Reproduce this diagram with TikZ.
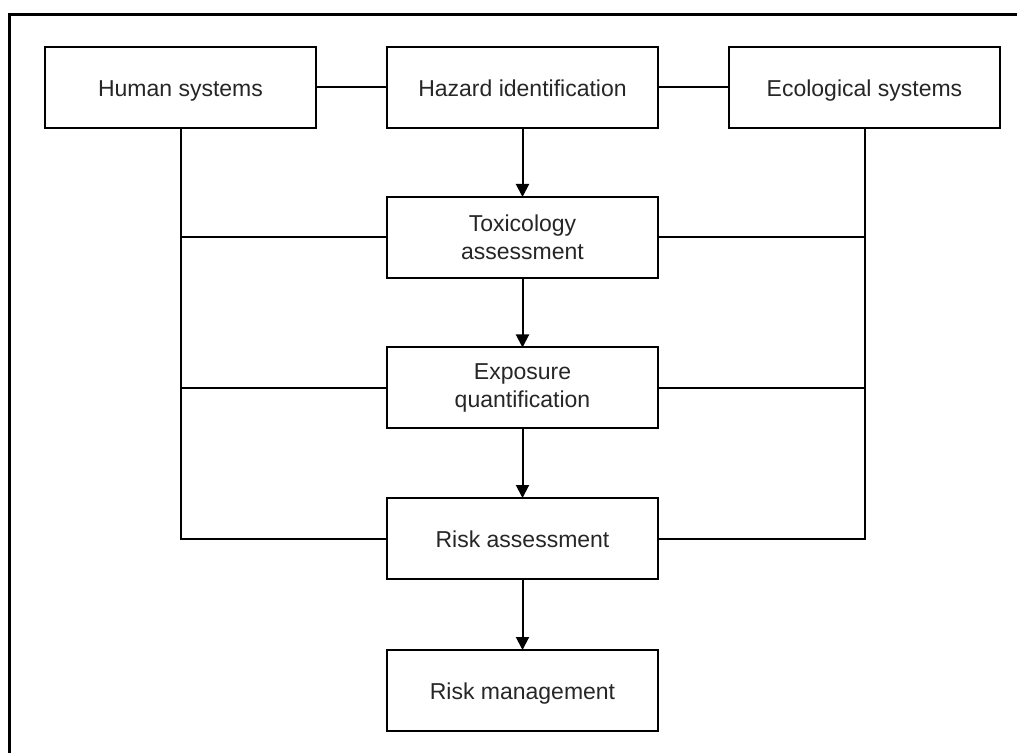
\documentclass[tikz,border=0pt]{standalone}
\usepackage{fontspec}
\setmainfont{Liberation Sans}
\usetikzlibrary{arrows.meta}
\begin{document}
\begin{tikzpicture}[x=0.5pt,y=-0.5pt,line width=1pt,
    >={Triangle[length=6.5pt,width=6.5pt]},
    box/.style={draw,minimum width=135.5pt,minimum height=40.5pt,inner sep=0pt,
      outer sep=0pt,align=center,text=black!85,font=\fontsize{11.5}{14}\selectfont},
    onebox/.style={box,text height=11pt,text depth=2pt}]
      \useasboundingbox (0,0) rectangle (1017,753);
      \draw[line width=1.5pt] (9,753) -- (9,15) -- (1017,15);
      \node[onebox] (human) at (180.5,87.5) {Human systems};
      \node[onebox] (hazard) at (522.5,87.5) {Hazard identification};
      \node[onebox] (eco) at (864.5,87.5) {Ecological systems};
      \node[box] (tox) at (522.5,237.5) {Toxicology\\assessment};
      \node[box] (expo) at (522.5,388) {Exposure\\quantification};
      \node[onebox] (risk) at (522.5,538.5) {Risk assessment};
      \node[onebox] (mgmt) at (522.5,690.5) {Risk management};
      \draw (human) -- (hazard);
      \draw (hazard) -- (eco);
      \draw[->] (hazard) -- (tox);
      \draw[->] (tox) -- (expo);
      \draw[->] (expo) -- (risk);
      \draw[->] (risk) -- (mgmt);
      \draw (human) |- (risk);
      \draw (eco) |- (risk);
      \draw (tox) -- (tox -| human);
      \draw (expo) -- (expo -| human);
      \draw (tox) -- (tox -| eco);
      \draw (expo) -- (expo -| eco);
    \end{tikzpicture}
\end{document}
